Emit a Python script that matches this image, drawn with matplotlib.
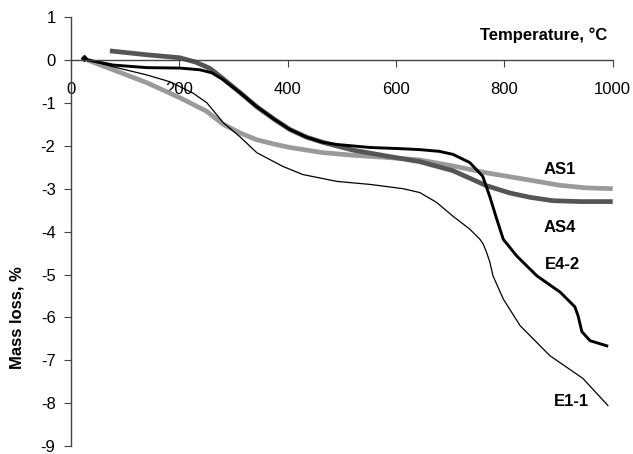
import matplotlib
matplotlib.use("Agg")
import matplotlib.pyplot as plt

plt.rcParams['font.family'] = ['Liberation Sans', 'DejaVu Sans']
plt.rcParams['axes.unicode_minus'] = False

# curve data (temperature in C, mass loss in %)
as1_t = [30, 78, 140, 201, 251, 281, 312, 343, 375, 404, 465, 520, 580, 644, 705, 767, 847, 902, 950, 1000]
as1_m = [0, -0.23, -0.53, -0.88, -1.20, -1.50, -1.70, -1.86, -1.96, -2.04, -2.16, -2.22, -2.27, -2.33,
         -2.47, -2.63, -2.80, -2.92, -2.98, -3.00]

as4_t = [72, 140, 201, 230, 257, 281, 312, 343, 375, 404, 435, 465, 520, 583, 644, 705, 767, 810, 847,
         890, 940, 1000]
as4_m = [0.21, 0.12, 0.05, -0.05, -0.20, -0.44, -0.76, -1.09, -1.38, -1.62, -1.80, -1.92, -2.10, -2.24,
         -2.37, -2.58, -2.93, -3.10, -3.20, -3.28, -3.30, -3.30]

e42_t = [30, 78, 140, 201, 238, 260, 281, 312, 343, 375, 404, 435, 465, 491, 552, 613, 644, 680, 705,
         736, 760, 773, 786, 798, 823, 860, 903, 930, 936, 943, 958, 989]
e42_m = [0, -0.12, -0.18, -0.19, -0.23, -0.30, -0.46, -0.76, -1.09, -1.38, -1.62, -1.80, -1.92, -1.97,
         -2.04, -2.07, -2.09, -2.13, -2.20, -2.39, -2.71, -3.18, -3.71, -4.18, -4.57, -5.03, -5.41, -5.75,
         -5.96, -6.33, -6.54, -6.66]

e11_t = [30, 78, 140, 183, 225, 251, 281, 312, 343, 391, 428, 491, 552, 613, 644, 675, 705, 736, 755,
         761, 767, 773, 779, 798, 829, 884, 945, 991]
e11_m = [0, -0.16, -0.35, -0.51, -0.77, -1.00, -1.46, -1.79, -2.16, -2.48, -2.67, -2.83, -2.90, -3.00,
         -3.09, -3.32, -3.64, -3.94, -4.18, -4.29, -4.48, -4.70, -5.03, -5.57, -6.19, -6.89, -7.42, -8.05]

start_t = [25]
start_m = [0.05]

x_ticks = [0, 200, 400, 600, 800, 1000]
y_ticks = [1, 0, -1, -2, -3, -4, -5, -6, -7, -8, -9]

fig = plt.figure(figsize=(6.33, 4.54), dpi=100)
ax = fig.add_axes([0.112, 0.017, 0.856, 0.9456])

ax.plot(as1_t, as1_m, color='#9a9a9a', lw=3.4, solid_capstyle='butt')
ax.plot(as4_t, as4_m, color='#555555', lw=3.4, solid_capstyle='butt')
ax.plot(e42_t, e42_m, color='black', lw=2.1)
ax.plot(e11_t, e11_m, color='black', lw=0.9)
ax.plot(start_t, start_m, 'D', color='black', ms=3)

ax.set_xlim(0, 1000)
ax.set_ylim(-9, 1)
ax.set_xticks(x_ticks)
ax.set_yticks(y_ticks)

ax.spines['top'].set_visible(False)
ax.spines['right'].set_visible(False)
ax.spines['left'].set_position(('data', 0))
ax.spines['bottom'].set_position(('data', 0))
for s in ['left', 'bottom']:
    ax.spines[s].set_color('#444444')
    ax.spines[s].set_linewidth(1.0)

ax.tick_params(axis='both', labelsize=12, length=5, color='#444444', direction='out')
ax.tick_params(axis='x', pad=11)
ax.tick_params(axis='y', pad=6)

ax.text(989, 0.58, 'Temperature, \u00b0C', fontsize=12, fontweight='bold', ha='right', va='center')
fig.text(0.027, 0.30, 'Mass loss, %', fontsize=12, fontweight='bold', rotation=90,
         ha='center', va='center')

ax.text(902, -2.55, 'AS1', fontsize=12, fontweight='bold', ha='center', va='center')
ax.text(902, -3.9, 'AS4', fontsize=12, fontweight='bold', ha='center', va='center')
ax.text(908, -4.76, 'E4-2', fontsize=12, fontweight='bold', ha='center', va='center')
ax.text(924, -7.96, 'E1-1', fontsize=12, fontweight='bold', ha='center', va='center')

fig.savefig('out.png', dpi=100)
